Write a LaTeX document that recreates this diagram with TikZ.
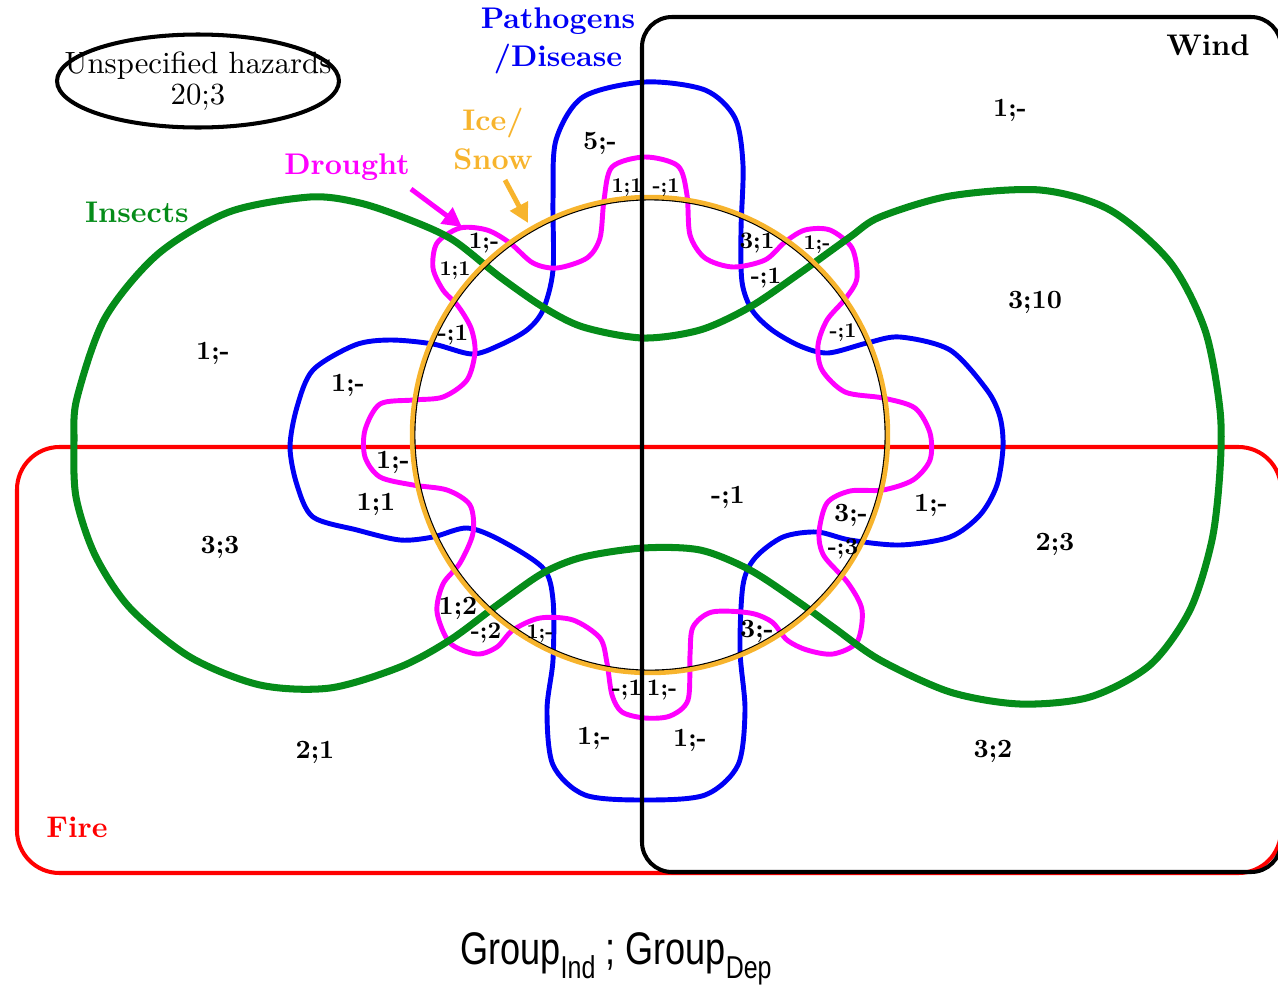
\documentclass[tikz,border=0pt]{standalone}
\usepackage{fontspec}
\setmainfont{lmroman10}[Extension=.otf, UprightFont=*-regular, BoldFont=*-bold, ItalicFont=*-italic, BoldItalicFont=*-bolditalic]
\newfontfamily\legendfont{Liberation Sans}
\usepackage{tikz}
\usetikzlibrary{shapes.geometric, arrows.meta}
\definecolor{firered}{RGB}{255, 0, 0}
\definecolor{insectgreen}{RGB}{5, 140, 25}
\definecolor{pathblue}{RGB}{0, 0, 245}
\definecolor{droughtpink}{RGB}{255, 0, 255}
\definecolor{iceorange}{RGB}{247, 180, 45}
\newcommand{\grpsub}[1]{\raisebox{-0.3em}{\fontsize{18}{20}\selectfont #1}}
\tikzset{
    setbox/.style={draw, line width=2.3pt, rounded corners=#1},
    setcurve/.style={line width=2.8pt, line join=round},
    setname/.style={font=\bfseries\fontsize{17}{22}\selectfont, align=center, inner sep=0pt},
    region/.style={font=\bfseries\fontsize{15}{16}\selectfont, inner sep=0pt},
    regionmid/.style={font=\bfseries\fontsize{13.5}{14}\selectfont, inner sep=0pt},
    regionsmall/.style={font=\bfseries\fontsize{12}{13}\selectfont, inner sep=0pt},
    pointer/.style={-{Triangle[length=11pt, width=11pt]}, line width=2.8pt}
}

\begin{document}
\begin{tikzpicture}[x=0.02cm, y=-0.02cm]
    \useasboundingbox (0,0) rectangle (1278,984);

    % Fire
    \draw[setbox=0.85cm, firered] (17,447) rectangle (1281,873);

    % Pathogens / Disease
    \draw[setcurve, pathblue] plot[smooth cycle] coordinates {
        (645,82) (705,90) (735,118) (743,165) (741,230) (742,282) (752,310) (772,330)
        (800,346) (828,353) (867,343) (900,337) (950,350) (987,390) (1000,417) (1003,447)
        (997,485) (980,515) (950,537) (900,545) (850,540) (817,532) (783,537) (755,558)
        (743,585) (740,650) (745,710) (738,765) (705,795) (645,800) (585,795) (553,765)
        (547,710) (553,660) (553,600) (543,568) (500,540) (467,528) (433,537) (400,540)
        (357,530) (313,517) (297,485) (290,447) (297,407) (313,370) (355,345) (390,340)
        (433,344) (472,354) (500,345) (527,330) (543,310) (553,270) (553,200) (556,140)
        (583,97)};

    % Drought
    \draw[setcurve, droughtpink] plot[smooth cycle] coordinates {
        (645,157) (678,166) (687,195) (690,235) (705,258) (733,267) (765,260) (785,242)
        (805,230) (830,230) (852,248) (857,278) (846,298) (827,320) (818,345) (822,370)
        (845,392) (883,398) (915,408) (930,433) (930,460) (913,480) (883,490) (850,491)
        (827,503) (819,533) (824,556) (848,583) (862,610) (857,642) (833,654) (807,650)
        (787,640) (772,622) (750,613) (712,612) (693,627) (690,655) (688,700) (670,716)
        (645,718) (622,712) (612,695) (607,663) (600,638) (573,620) (540,618) (513,630)
        (497,647) (477,654) (450,643) (437,612) (443,584) (460,563) (473,533) (470,505)
        (447,490) (413,485) (380,477) (365,457) (365,430) (380,404) (413,400) (443,397)
        (467,380) (475,352) (471,328) (458,306) (443,290) (433,268) (437,243) (460,228)
        (487,230) (510,243) (533,263) (557,268) (587,258) (600,238) (604,200) (612,167)};

    % Insects
    \draw[setcurve, line width=4pt, insectgreen] plot[smooth cycle] coordinates {
        (310,197) (360,203) (410,220) (453,240) (500,277) (543,307) (583,327) (643,338)
        (700,330) (750,307) (800,273) (850,237) (880,217) (950,196) (1040,190) (1110,210)
        (1170,262) (1205,330) (1220,410) (1220,470) (1212,540) (1190,610) (1150,665) (1090,697)
        (1020,704) (950,692) (880,660) (833,627) (800,603) (750,570) (700,550) (643,548)
        (583,557) (543,573) (500,603) (450,640) (400,667) (330,688) (260,685) (190,657)
        (130,608) (95,555) (76,497) (74,440) (77,398) (105,318) (158,254) (229,212)};

    % Ice / Snow
    \draw[line width=1.6pt, black] (650,435) circle [radius=4.72cm];
    \draw[line width=2.6pt, iceorange] (650,435) circle [radius=4.76cm];

    % Wind
    \draw[setbox=0.6cm, black] (642,17) rectangle (1281,872);

    % Set names
    \node[font=\fontsize{17.5}{18}\selectfont, align=center, inner sep=0pt] (unspec) at (198,81) {Unspecified hazards\\20;3};
    \draw[line width=2.3pt] (unspec.center) ellipse [x radius=2.82cm, y radius=0.93cm];
    \node[setname, pathblue] (pathname) at (558,41) {Pathogens\\/Disease};
    \node[setname] (windname) at (1208,45) {Wind};
    \node[setname, iceorange] (icename) at (493,139) {Ice/\\Snow};
    \node[setname, droughtpink] (droughtname) at (347,167) {Drought};
    \node[setname, insectgreen] (insectname) at (137,212) {Insects};
    \node[setname, firered] (firename) at (77,827) {Fire};

    % Pointers
    \coordinate (droughttail) at (411,189);
    \coordinate (droughttip) at (462,227);
    \coordinate (icetail) at (505,180);
    \coordinate (icetip) at (528,223);
    \draw[pointer, droughtpink] (droughttail) -- (droughttip);
    \draw[pointer, iceorange] (icetail) -- (icetip);

    % Region counts
    \node[region] (wind-only) at (1010,110) {1;-};
    \node[region] (path-only) at (600,143) {5;-};
    \node[regionsmall] (pdi-w) at (627,188) {1;1};
    \node[regionsmall] (pdiw) at (666,188) {-;1};
    \node[regionmid] (id-top) at (484,243) {1;-};
    \node[regionsmall] (dii) at (455,271) {1;1};
    \node[regionmid] (pdw) at (757,243) {3;1};
    \node[regionsmall] (diw) at (817,245) {1;-};
    \node[regionmid] (pdwi) at (766,278) {-;1};
    \node[region] (insect-wind) at (1035,302) {3;10};
    \node[region] (insect-only) at (213,353) {1;-};
    \node[regionmid] (dip) at (453,335) {-;1};
    \node[regionsmall] (diwp) at (843,333) {-;1};
    \node[region] (insect-path) at (348,385) {1;-};
    \node[region] (pdf) at (393,462) {1;-};
    \node[region] (ipf) at (376,504) {1;1};
    \node[region] (iwf) at (728,497) {-;1};
    \node[region] (dfw) at (851,515) {3;-};
    \node[region] (pfw) at (931,505) {1;-};
    \node[regionmid] (dpfw) at (843,549) {-;3};
    \node[region] (insect-fire) at (220,547) {3;3};
    \node[region] (insect-fire-wind) at (1055,544) {2;3};
    \node[region] (dif) at (458,608) {1;2};
    \node[regionmid] (difp) at (486,633) {-;2};
    \node[regionsmall] (dpf) at (540,634) {1;-};
    \node[region] (dpfw-low) at (757,631) {3;-};
    \node[regionmid] (dpf-low) at (627,690) {-;1};
    \node[regionmid] (dpfw-bot) at (662,690) {1;-};
    \node[region] (pf) at (594,738) {1;-};
    \node[region] (pfw-bot) at (690,740) {1;-};
    \node[region] (fire-only) at (315,752) {2;1};
    \node[region] (fire-wind) at (993,751) {3;2};

    % Legend
    \node[font=\legendfont\fontsize{26}{30}\selectfont, inner sep=0pt] (legend) at (616,959) {\scalebox{0.79}[1]{Group\grpsub{Ind} ; Group\grpsub{Dep}}};
\end{tikzpicture}
\end{document}
